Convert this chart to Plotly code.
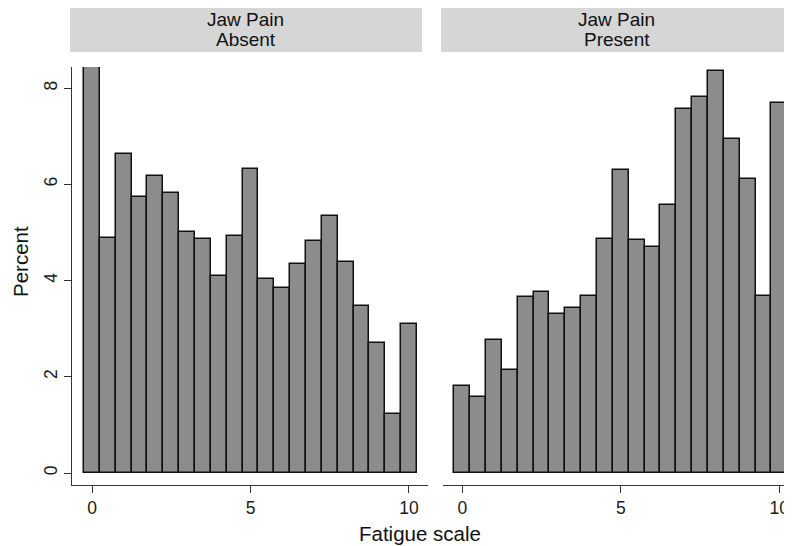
import plotly.graph_objects as go

# Page body has an 8px margin, so figure is 784x538 and reference pixel coords are shifted by 8.
OFF = 8
W, H = 792 - OFF, 546 - OFF

bin_centers = [0, 0.5, 1, 1.5, 2, 2.5, 3, 3.5, 4, 4.5, 5, 5.5, 6, 6.5, 7, 7.5, 8, 8.5, 9, 9.5, 10]
absent_pct = [8.44, 4.89, 6.63, 5.74, 6.18, 5.82, 5.00, 4.86, 4.10, 4.92, 6.33,
              4.03, 3.85, 4.34, 4.82, 5.35, 4.39, 3.47, 2.70, 1.22, 3.09]
present_pct = [1.81, 1.57, 2.77, 2.14, 3.66, 3.76, 3.31, 3.44, 3.67, 4.86, 6.29,
               4.84, 4.69, 5.57, 7.57, 7.82, 8.35, 6.94, 6.11, 3.69, 7.69]
panel_line1 = ["Jaw Pain", "Jaw Pain"]
panel_line2 = ["Absent", "Present"]
x_ticks = [0, 5, 10]
y_ticks = [0, 2, 4, 6, 8]

FONT = "Liberation Sans, Arial, Helvetica, sans-serif"

bar_style = dict(marker=dict(color="#8c8c8c", line=dict(color="#111111", width=1.5)),
                 width=0.5, showlegend=False)

fig = go.Figure()
fig.add_trace(go.Bar(x=bin_centers, y=absent_pct, xaxis="x", yaxis="y", **bar_style))
fig.add_trace(go.Bar(x=bin_centers, y=present_pct, xaxis="x2", yaxis="y2", **bar_style))


def px_x(p):
    return (p - OFF) / W


def px_y(p):
    return 1 - (p - OFF) / H


tickfont = dict(family=FONT, size=17.5, color="#1a1a1a")
common_x = dict(tickvals=x_ticks, showline=True, linecolor="#333", linewidth=1.2,
                ticks="outside", ticklen=7, tickcolor="#333", showgrid=False,
                zeroline=False, tickfont=tickfont)

y_dom = [px_y(485), px_y(67)]
fig.update_layout(
    width=W, height=H,
    margin=dict(l=0, r=0, t=0, b=0),
    paper_bgcolor="white", plot_bgcolor="white",
    bargap=0,
    xaxis=dict(domain=[px_x(72), px_x(428)], range=[-0.631, 10.6], anchor="y", **common_x),
    xaxis2=dict(domain=[px_x(443), 1.0], range=[-0.609, 10.40], anchor="y2", **common_x),
    yaxis=dict(domain=y_dom, range=[-0.249, 8.44], tickvals=y_ticks, tickangle=-90,
               showline=True, linecolor="#333", linewidth=1.2, ticks="outside",
               ticklen=7, tickcolor="#333", showgrid=False, zeroline=False,
               tickfont=tickfont, anchor="x"),
    yaxis2=dict(domain=y_dom, range=[-0.249, 8.44], showline=False, showticklabels=False,
                ticks="", showgrid=False, zeroline=False, anchor="x2"),
)

# Strip headers
strips = [(70, 422), (441, 792)]
for (x0, x1), l1, l2 in zip(strips, panel_line1, panel_line2):
    fig.add_shape(type="rect", xref="paper", yref="paper",
                  x0=px_x(x0), x1=px_x(x1), y0=px_y(52), y1=px_y(8),
                  fillcolor="#d6d6d6", line=dict(width=0), layer="below")
    for txt, yy in ((l1, 19), (l2, 40)):
        fig.add_annotation(xref="paper", yref="paper", x=px_x((x0 + x1) / 2), y=px_y(yy),
                           text=txt, showarrow=False, xanchor="center", yanchor="middle",
                           font=dict(family=FONT, size=19, color="#111"))

fig.add_annotation(xref="paper", yref="paper", x=px_x(20), y=px_y(262), text="Percent",
                   textangle=-90, showarrow=False, xanchor="center", yanchor="middle",
                   font=dict(family=FONT, size=20.5, color="#111"))
fig.add_annotation(xref="paper", yref="paper", x=px_x(420), y=px_y(533), text="Fatigue scale",
                   showarrow=False, xanchor="center", yanchor="middle",
                   font=dict(family=FONT, size=20.5, color="#111"))

fig.write_html("out.html")
